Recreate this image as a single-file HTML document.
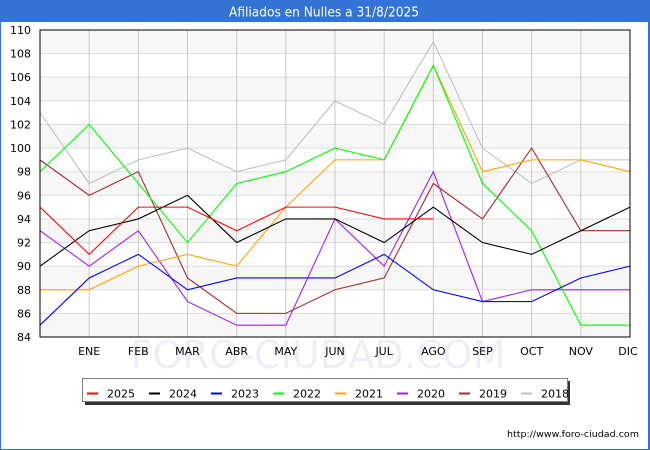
<!DOCTYPE html>
<html>
<head>
<meta charset="utf-8">
<style>
html,body{margin:0;padding:0;background:#fff;}
svg{display:block;}
text{font-family:"DejaVu Sans","Liberation Sans",sans-serif;}
</style>
</head>
<body>
<svg width="650" height="450" viewBox="0 0 650 450" xmlns="http://www.w3.org/2000/svg">
  <rect x="0" y="0" width="650" height="450" fill="#ffffff"/>
  <!-- frame -->
  <rect x="0.5" y="0.5" width="649" height="449" fill="none" stroke="#3373d6" stroke-width="1"/>
  <rect x="648" y="0" width="2" height="450" fill="#3373d6"/>
  <!-- title bar -->
  <rect x="0" y="0" width="650" height="22" fill="#3373d6"/>
  <text x="324" y="16.5" fill="#ffffff" font-size="13" text-anchor="middle" textLength="190" lengthAdjust="spacingAndGlyphs">Afiliados en Nulles a 31/8/2025</text>

  <!-- plot bands -->
  <g fill="#f7f7f7">
    <rect x="40" y="30" width="590" height="23.62"/>
    <rect x="40" y="77.23" width="590" height="23.62"/>
    <rect x="40" y="124.46" width="590" height="23.62"/>
    <rect x="40" y="171.69" width="590" height="23.62"/>
    <rect x="40" y="218.92" width="590" height="23.62"/>
    <rect x="40" y="266.15" width="590" height="23.62"/>
    <rect x="40" y="313.38" width="590" height="23.62"/>
  </g>
  <!-- watermark -->
  <text x="318" y="368" fill="#eeeef8" font-size="38" text-anchor="middle" textLength="375" lengthAdjust="spacingAndGlyphs" font-family="Liberation Sans, sans-serif">FORO-CIUDAD.COM</text>
  <rect x="40" y="337.5" width="590" height="40" fill="#ffffff" opacity="0"/>

  <!-- horizontal gridlines -->
  <g stroke="#dddddd" stroke-width="1">
    <line x1="40" x2="630" y1="53.62" y2="53.62"/>
    <line x1="40" x2="630" y1="77.23" y2="77.23"/>
    <line x1="40" x2="630" y1="100.85" y2="100.85"/>
    <line x1="40" x2="630" y1="124.46" y2="124.46"/>
    <line x1="40" x2="630" y1="148.08" y2="148.08"/>
    <line x1="40" x2="630" y1="171.69" y2="171.69"/>
    <line x1="40" x2="630" y1="195.31" y2="195.31"/>
    <line x1="40" x2="630" y1="218.92" y2="218.92"/>
    <line x1="40" x2="630" y1="242.54" y2="242.54"/>
    <line x1="40" x2="630" y1="266.15" y2="266.15"/>
    <line x1="40" x2="630" y1="289.77" y2="289.77"/>
    <line x1="40" x2="630" y1="313.38" y2="313.38"/>
  </g>
  <!-- vertical gridlines -->
  <g stroke="#c8c8c8" stroke-width="1">
    <line x1="89.17" x2="89.17" y1="30" y2="337"/>
    <line x1="138.33" x2="138.33" y1="30" y2="337"/>
    <line x1="187.5" x2="187.5" y1="30" y2="337"/>
    <line x1="236.67" x2="236.67" y1="30" y2="337"/>
    <line x1="285.83" x2="285.83" y1="30" y2="337"/>
    <line x1="335" x2="335" y1="30" y2="337"/>
    <line x1="384.17" x2="384.17" y1="30" y2="337"/>
    <line x1="433.33" x2="433.33" y1="30" y2="337"/>
    <line x1="482.5" x2="482.5" y1="30" y2="337"/>
    <line x1="531.67" x2="531.67" y1="30" y2="337"/>
    <line x1="580.83" x2="580.83" y1="30" y2="337"/>
  </g>

  <!-- series -->
  <g fill="none" stroke-width="1.1" stroke-linejoin="miter">
    <polyline stroke="#c0c0c0" points="40,112.65 89.17,183.5 138.33,159.88 187.5,148.08 236.67,171.69 285.83,159.88 335,100.85 384.17,124.46 433.33,41.81 482.5,148.08 531.67,183.5 580.83,159.88 630,159.88"/>
    <polyline stroke="#a52a2a" points="40,159.88 89.17,195.31 138.33,171.69 187.5,277.96 236.67,313.38 285.83,313.38 335,289.77 384.17,277.96 433.33,183.5 482.5,218.92 531.67,148.08 580.83,230.73 630,230.73"/>
    <polyline stroke="#a020f0" points="40,230.73 89.17,266.15 138.33,230.73 187.5,301.58 236.67,325.19 285.83,325.19 335,218.92 384.17,266.15 433.33,171.69 482.5,301.58 531.67,289.77 580.83,289.77 630,289.77"/>
    <polyline stroke="#ffa500" points="40,289.77 89.17,289.77 138.33,266.15 187.5,254.35 236.67,266.15 285.83,207.12 335,159.88 384.17,159.88 433.33,65.42 482.5,171.69 531.67,159.88 580.83,159.88 630,171.69"/>
    <polyline stroke="#00ff00" points="40,171.69 89.17,124.46 138.33,183.5 187.5,242.54 236.67,183.5 285.83,171.69 335,148.08 384.17,159.88 433.33,65.42 482.5,183.5 531.67,230.73 580.83,325.19 630,325.19"/>
    <polyline stroke="#0000ff" points="40,325.19 89.17,277.96 138.33,254.35 187.5,289.77 236.67,277.96 285.83,277.96 335,277.96 384.17,254.35 433.33,289.77 482.5,301.58 531.67,301.58 580.83,277.96 630,266.15"/>
    <polyline stroke="#000000" points="40,266.15 89.17,230.73 138.33,218.92 187.5,195.31 236.67,242.54 285.83,218.92 335,218.92 384.17,242.54 433.33,207.12 482.5,242.54 531.67,254.35 580.83,230.73 630,207.12"/>
    <polyline stroke="#ff0000" points="40,207.12 89.17,254.35 138.33,207.12 187.5,207.12 236.67,230.73 285.83,207.12 335,207.12 384.17,218.92 433.33,218.92"/>
  </g>

  <!-- plot border -->
  <rect x="40" y="30" width="590" height="307" fill="none" stroke="#000000" stroke-width="1"/>

  <!-- y labels -->
  <g font-size="11" fill="#000" text-anchor="end">
    <text x="31" y="34">110</text>
    <text x="31" y="57.6">108</text>
    <text x="31" y="81.2">106</text>
    <text x="31" y="104.8">104</text>
    <text x="31" y="128.5">102</text>
    <text x="31" y="152.1">100</text>
    <text x="31" y="175.7">98</text>
    <text x="31" y="199.3">96</text>
    <text x="31" y="222.9">94</text>
    <text x="31" y="246.5">92</text>
    <text x="31" y="270.2">90</text>
    <text x="31" y="293.8">88</text>
    <text x="31" y="317.4">86</text>
    <text x="31" y="341">84</text>
  </g>
  <!-- x labels -->
  <g font-size="11" fill="#000" text-anchor="middle">
    <text x="89.17" y="355">ENE</text>
    <text x="138.33" y="355">FEB</text>
    <text x="187.5" y="355">MAR</text>
    <text x="236.67" y="355">ABR</text>
    <text x="285.83" y="355">MAY</text>
    <text x="335" y="355">JUN</text>
    <text x="384.17" y="355">JUL</text>
    <text x="433.33" y="355">AGO</text>
    <text x="482.5" y="355">SEP</text>
    <text x="531.67" y="355">OCT</text>
    <text x="580.83" y="355">NOV</text>
    <text x="628" y="355">DIC</text>
  </g>

  <!-- legend -->
  <rect x="85" y="381" width="485" height="24" fill="#333333"/>
  <rect x="82.5" y="378.5" width="485" height="23" fill="#ffffff" stroke="#808080" stroke-width="1"/>
  <g stroke-width="2">
    <line x1="87" x2="98" y1="393.5" y2="393.5" stroke="#ff0000"/>
    <line x1="149" x2="160" y1="393.5" y2="393.5" stroke="#000000"/>
    <line x1="211" x2="222" y1="393.5" y2="393.5" stroke="#0000ff"/>
    <line x1="273" x2="284" y1="393.5" y2="393.5" stroke="#00ff00"/>
    <line x1="335" x2="346" y1="393.5" y2="393.5" stroke="#ffa500"/>
    <line x1="397" x2="408" y1="393.5" y2="393.5" stroke="#a020f0"/>
    <line x1="459" x2="470" y1="393.5" y2="393.5" stroke="#a52a2a"/>
    <line x1="521" x2="532" y1="393.5" y2="393.5" stroke="#c0c0c0"/>
  </g>
  <g font-size="11" fill="#000">
    <text x="107" y="397.5">2025</text>
    <text x="169" y="397.5">2024</text>
    <text x="231" y="397.5">2023</text>
    <text x="293" y="397.5">2022</text>
    <text x="355" y="397.5">2021</text>
    <text x="417" y="397.5">2020</text>
    <text x="479" y="397.5">2019</text>
    <text x="541" y="397.5">2018</text>
  </g>

  <!-- footer -->
  <text x="639" y="437" font-size="9" fill="#000" text-anchor="end" textLength="132" lengthAdjust="spacingAndGlyphs">http://www.foro-ciudad.com</text>
</svg>
</body>
</html>
